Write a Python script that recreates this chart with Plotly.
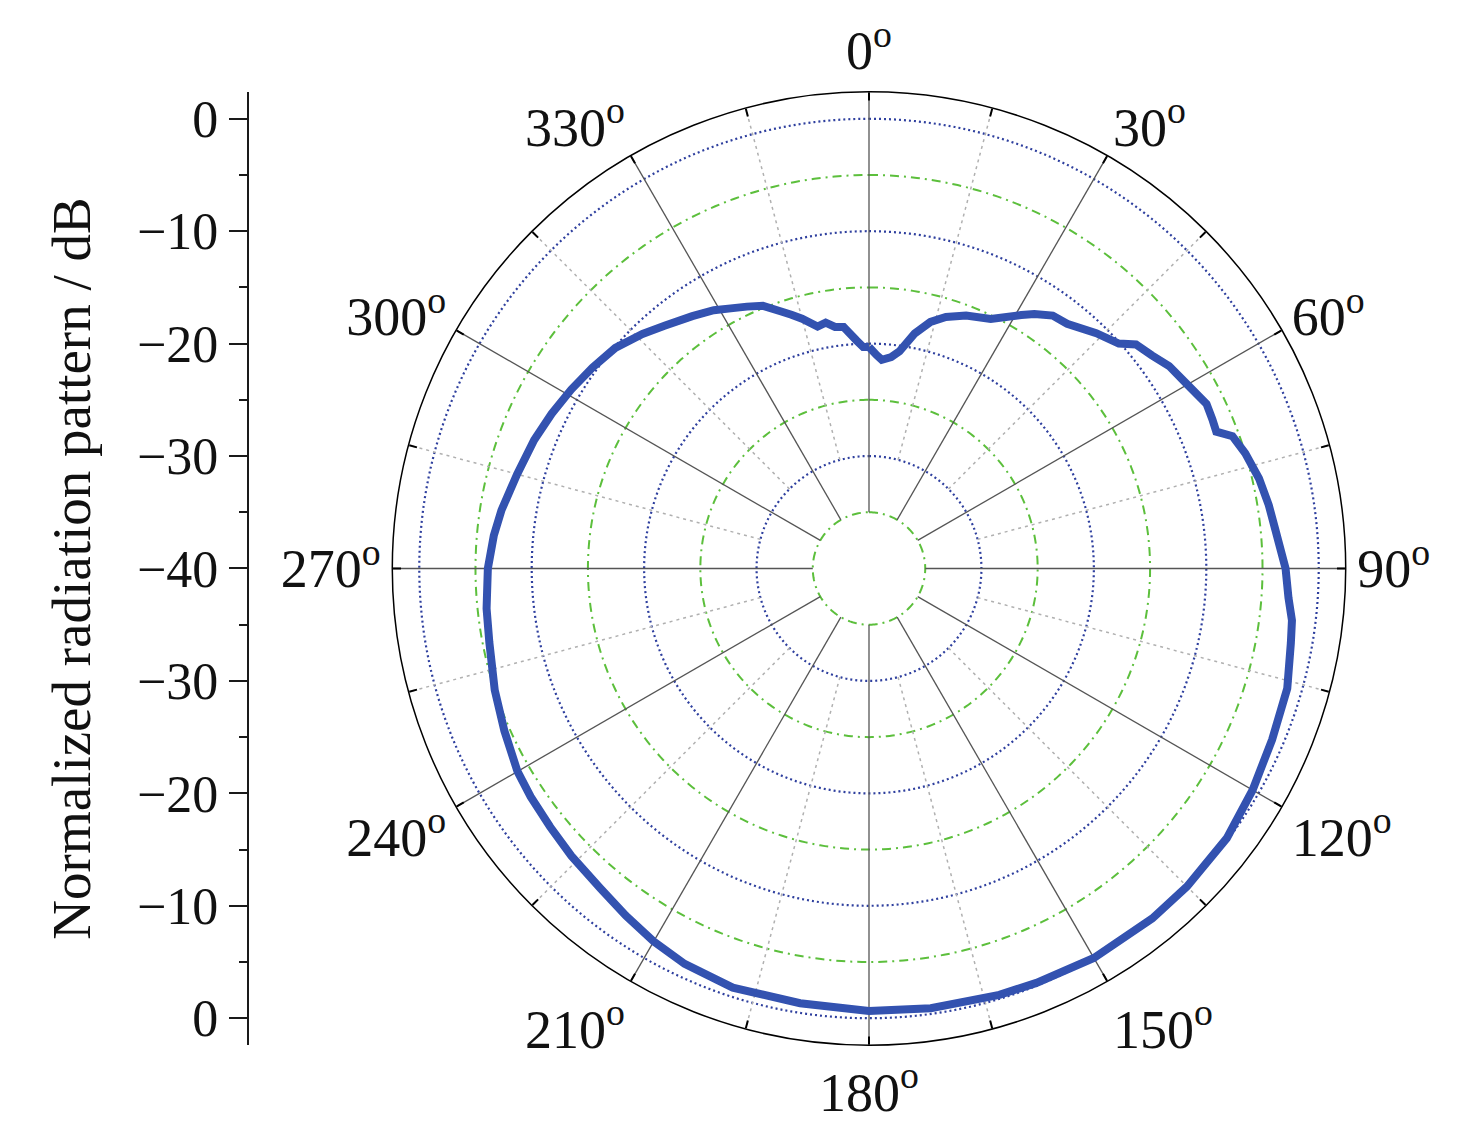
import plotly.graph_objects as go

# ---- data ----
theta_deg = [0, 2, 3.5, 6, 8, 11, 14, 17, 21, 26, 31, 33, 36, 39, 44, 48, 50, 53, 56, 60,
             64, 66.5, 68.5, 70, 73, 77, 81, 84.5, 90, 94, 97, 100, 106, 113, 120, 127, 135,
             141, 150, 158, 163, 172, 180, 189, 198, 205, 210, 215, 220, 226, 231, 236, 240,
             246, 252, 259, 264, 270, 275, 279, 285, 291, 296, 301, 306, 311, 316, 320, 325,
             329, 332, 335, 338, 341, 343, 345, 348, 350, 352, 354, 356.9, 358.5, 360]
pattern_db = [-20.3, -21.0, -21.4, -21.1, -20.5, -18.7, -17.4, -16.6, -15.9, -15.3, -13.7, -13.0,
              -12.2, -12.0, -10.9, -10.1, -9.0, -8.5, -7.8, -7.3, -6.6, -6.7, -6.8, -5.6, -5.0,
              -4.4, -4.0, -3.7, -2.95, -2.6, -2.1, -1.9, -1.3, -1.05, -0.6, -0.15, 0.0, 0.05,
              0.0, -0.25, -0.35, -0.5, -0.65, -0.85, -0.8, -1.2, -1.7, -2.3, -2.85, -3.2, -3.5,
              -3.7, -3.9, -4.5, -5.0, -5.6, -5.8, -6.1, -6.5, -6.9, -7.6, -8.1, -8.6, -9.1,
              -9.6, -10.1, -11.0, -11.8, -12.6, -13.2, -13.8, -14.3, -14.8, -15.8, -16.4, -17.0,
              -18.0, -17.8, -18.3, -18.4, -19.7, -20.3, -20.3]

major_circles = [-30, -20, -10, 0]
minor_circles = [-35, -25, -15, -5]
major_spokes = list(range(0, 360, 30))
minor_spokes = list(range(15, 360, 30))
angle_ticks = list(range(0, 360, 15))
angle_labels = [f"{a}<sup>o</sup>" if a % 30 == 0 else "" for a in angle_ticks]
left_tickvals = [40, 30, 20, 10, 0, -10, -20, -30, -40]
left_ticktext = ["0", "\u221210", "\u221220", "\u221230", "\u221240",
                 "\u221230", "\u221220", "\u221210", "0"]

R_MIN, R_MAX = -40, 2.4
FONT = "Liberation Serif, Times New Roman, serif"
circle_theta = list(range(0, 361, 1))

fig = go.Figure()

for rv in minor_circles:
    fig.add_trace(go.Scatterpolar(r=[rv] * len(circle_theta), theta=circle_theta, mode="lines",
                                  line=dict(color="#5cbf3c", width=2, dash="9px,5px,2px,5px"),
                                  hoverinfo="skip", showlegend=False))
for rv in major_circles:
    fig.add_trace(go.Scatterpolar(r=[rv] * len(circle_theta), theta=circle_theta, mode="lines",
                                  line=dict(color="#2e3f9e", width=2.2, dash="2px,3px"),
                                  hoverinfo="skip", showlegend=False))
for a in minor_spokes:
    fig.add_trace(go.Scatterpolar(r=[-30, R_MAX], theta=[a, a], mode="lines",
                                  line=dict(color="#b0b0b0", width=1.5, dash="3px,4px"),
                                  hoverinfo="skip", showlegend=False))
for a in major_spokes:
    fig.add_trace(go.Scatterpolar(r=[-35, R_MAX], theta=[a, a], mode="lines",
                                  line=dict(color="#555555", width=1.3),
                                  hoverinfo="skip", showlegend=False))

fig.add_trace(go.Scatterpolar(r=pattern_db, theta=theta_deg, mode="lines",
                              line=dict(color="#3352b0", width=8),
                              showlegend=False))

fig.add_trace(go.Scatter(x=[0], y=[0], mode="markers", marker=dict(opacity=0),
                         hoverinfo="skip", showlegend=False, xaxis="x", yaxis="y"))

# page body has an 8px margin: lay out in shifted coordinates
OFF = 8
W, H = 1476 - OFF, 1127 - OFF
cx, cy, rad = 869 - OFF, 569 - OFF, 478
xd = [(cx - rad) / W, (cx + rad) / W]
yd = [(H - (cy + rad)) / H, (H - (cy - rad)) / H]
span = R_MAX - R_MIN
axis_x = (247.5 - OFF) / W

fig.update_layout(
    width=W, height=H,
    margin=dict(l=0, r=0, t=0, b=0),
    paper_bgcolor="white", plot_bgcolor="white",
    polar=dict(
        domain=dict(x=xd, y=yd),
        bgcolor="white",
        radialaxis=dict(range=[R_MIN, R_MAX], visible=False, showgrid=False),
        angularaxis=dict(rotation=90, direction="clockwise", showgrid=False,
                         showline=True, linecolor="black", linewidth=1.5,
                         ticks="inside", ticklen=8, tickcolor="black", tickwidth=1.5,
                         tickmode="array", tickvals=angle_ticks, ticktext=angle_labels,
                         tickfont=dict(family=FONT, size=54, color="#111111")),
    ),
    xaxis=dict(domain=[axis_x, axis_x + 0.002], visible=False, range=[0, 1]),
    yaxis=dict(domain=yd, range=[-span, span], anchor="free", position=axis_x,
               showline=True, linecolor="#1a1a1a", linewidth=1.5,
               showgrid=False, zeroline=False,
               ticks="outside", ticklen=18, tickwidth=1.5, tickcolor="#1a1a1a",
               tickmode="array", tickvals=left_tickvals, ticktext=left_ticktext,
               minor=dict(ticks="outside", ticklen=8, tickwidth=1.5, tickcolor="#1a1a1a",
                          tickvals=[35, 25, 15, 5, -5, -15, -25, -35]),
               tickfont=dict(family=FONT, size=52, color="#111111"),
               title=dict(text="Normalized radiation pattern / dB",
                          font=dict(family=FONT, size=55, color="#111111"), standoff=28)),
)

fig.write_html("out.html")
